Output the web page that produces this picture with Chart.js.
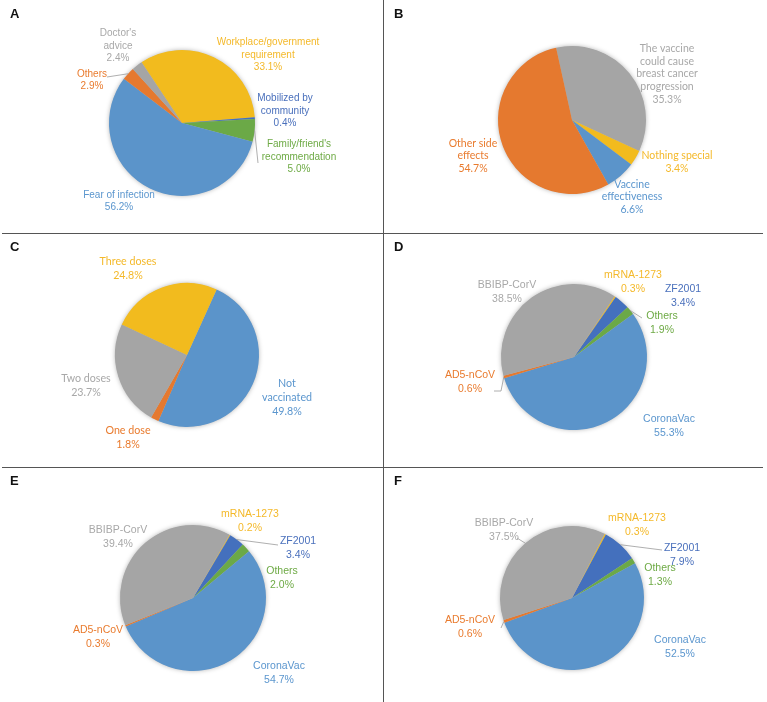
<!DOCTYPE html>
<html>
<head>
<meta charset="utf-8">
<script src="https://cdn.jsdelivr.net/npm/chart.js@4/dist/chart.umd.min.js"></script>
<style>
  body { margin: 0; background: #fff; }
  #page { position: relative; width: 767px; height: 702px; overflow: hidden; }
  .panel { position: absolute; }
  .tag { position: absolute; font: bold 13px "Liberation Sans", Arial, sans-serif; color: #111; }
  .vline { position: absolute; left: 382.5px; top: 0; width: 1.5px; height: 702px; background: #555; }
  .hline { position: absolute; left: 2px; width: 761px; height: 1.5px; background: #555; }
</style>
</head>
<body>
<div id="page">
  <div class="vline"></div>
  <div class="hline" style="top:232.5px"></div>
  <div class="hline" style="top:466.5px"></div>
</div>
<script>
"use strict";

// A - reasons for vaccination
const labelsA = [['Workplace/government', 'requirement'], ['Mobilized by', 'community'], ["Family/friend's", 'recommendation'], ['Fear of infection'], ['Others'], ["Doctor's", 'advice']];
const valuesA = [33.1, 0.4, 5.0, 56.2, 2.9, 2.4];

// B - reasons for hesitancy
const labelsB = [['The vaccine', 'could cause', 'breast cancer', 'progression'], ['Nothing special'], ['Vaccine', 'effectiveness'], ['Other side', 'effects']];
const valuesB = [35.3, 3.4, 6.6, 54.7];

// C - doses
const labelsC = [['Not', 'vaccinated'], ['One dose'], ['Two doses'], ['Three doses']];
const valuesC = [49.8, 1.8, 23.7, 24.8];

// D, E, F - vaccine types
const labelsVac = [['mRNA-1273'], ['ZF2001'], ['Others'], ['CoronaVac'], ['AD5-nCoV'], ['BBIBP-CorV']];
const valuesD = [0.3, 3.4, 1.9, 55.3, 0.6, 38.5];
const valuesE = [0.2, 3.4, 2.0, 54.7, 0.3, 39.4];
const valuesF = [0.3, 7.9, 1.3, 52.5, 0.6, 37.5];

const C = {
    blue: '#5B94CA', orange: '#E5792F', gray: '#A5A5A5',
    yellow: '#F2BB1E', navy: '#4470BD', green: '#6BA947'
};
const T = {
    blue: '#5B96CE', orange: '#E97B2E', gray: '#A8A8A8',
    yellow: '#F4B92A', navy: '#4A70BC', green: '#6EAA45'
};

const vacColors = [C.yellow, C.navy, C.green, C.blue, C.orange, C.gray];
const vacText = [T.yellow, T.navy, T.green, T.blue, T.orange, T.gray];

const panels = [
    {
        tag: 'A', x: 0, y: 0, w: 383, h: 233, cx: 182, cy: 123, r: 73, rotation: -33.7,
        labels: labelsA, values: valuesA,
        colors: [C.yellow, C.navy, C.green, C.blue, C.orange, C.gray],
        text: [T.yellow, T.navy, T.green, T.blue, T.orange, T.gray],
        font: '10px "Liberation Sans", Arial, sans-serif', lh: 12.5,
        pos: [[86, -68], [103, -12], [117, 34], [-63, 78], [-90, -43], [-64, -77]],
        leaders: { 2: [[76, 40]], 4: [[-75, -46]] }
    },
    {
        tag: 'B', x: 384, y: 0, w: 383, h: 233, cx: 188, cy: 120, r: 74, rotation: -12.4,
        labels: labelsB, values: valuesB,
        colors: [C.gray, C.yellow, C.blue, C.orange],
        text: [T.gray, T.yellow, T.blue, T.orange],
        font: '10.5px Lato, sans-serif', lh: 12.7,
        pos: [[95, -46], [105, 42], [60, 77], [-99, 36]],
        leaders: {}
    },
    {
        tag: 'C', x: 0, y: 233, w: 383, h: 234, cx: 187, cy: 122, r: 72, rotation: 24.3,
        labels: labelsC, values: valuesC,
        colors: [C.blue, C.orange, C.gray, C.yellow],
        text: [T.blue, T.orange, T.gray, T.yellow],
        font: '10.7px Lato, sans-serif', lh: 14,
        pos: [[100, 43], [-59, 83], [-101, 31], [-59, -86]],
        leaders: {}
    },
    {
        tag: 'D', x: 384, y: 233, w: 383, h: 234, cx: 190, cy: 124, r: 73, rotation: 33.8,
        labels: labelsVac, values: valuesD, colors: vacColors, text: vacText,
        font: '10.5px "Liberation Sans", Arial, sans-serif', lh: 13.5,
        pos: [[59, -75], [109, -61], [88, -34], [95, 69], [-104, 25], [-67, -65]],
        leaders: { 2: [[68, -39]], 4: [[-73, 34], [-80, 34]] }
    },
    {
        tag: 'E', x: 0, y: 467, w: 383, h: 235, cx: 193, cy: 131, r: 73, rotation: 30.0,
        labels: labelsVac, values: valuesE, colors: vacColors, text: vacText,
        font: '10.5px "Liberation Sans", Arial, sans-serif', lh: 14,
        pos: [[57, -77], [105, -50], [89, -20], [86, 75], [-95, 39], [-75, -61]],
        leaders: { 1: [[85, -53]] }
    },
    {
        tag: 'F', x: 384, y: 467, w: 383, h: 235, cx: 188, cy: 131, r: 72, rotation: 27.0,
        labels: labelsVac, values: valuesF, colors: vacColors, text: vacText,
        font: '10.5px "Liberation Sans", Arial, sans-serif', lh: 14,
        pos: [[65, -73], [110, -43], [88, -23], [108, 49], [-102, 29], [-68, -68]],
        leaders: { 1: [[90, -48]], 4: [[-71, 30]], 5: [[-55, -60]] }
    }
];

// soft shadow disc under the pie, like the office chart
const shadowPlugin = {
    id: 'shadow',
    beforeDatasetsDraw(chart) {
        const arc = chart.getDatasetMeta(0).data[0];
        if (!arc) return;
        const ctx = chart.ctx;
        ctx.save();
        ctx.shadowColor = 'rgba(0,0,0,0.35)';
        ctx.shadowBlur = 5;
        ctx.fillStyle = '#bbb';
        ctx.beginPath();
        ctx.arc(arc.x, arc.y, arc.outerRadius - 0.5, 0, Math.PI * 2);
        ctx.fill();
        ctx.restore();
    }
};

// slice labels and leader lines
const labelPlugin = {
    id: 'sliceLabels',
    afterDatasetsDraw(chart, args, opts) {
        const p = opts.panel;
        const ctx = chart.ctx;
        const arcs = chart.getDatasetMeta(0).data;
        ctx.save();
        arcs.forEach((arc, i) => {
            const mid = (arc.startAngle + arc.endAngle) / 2;
            const lead = p.leaders[i];
            if (lead) {
                ctx.strokeStyle = '#9a9a9a';
                ctx.lineWidth = 0.8;
                ctx.beginPath();
                ctx.moveTo(arc.x + arc.outerRadius * Math.cos(mid), arc.y + arc.outerRadius * Math.sin(mid));
                lead.forEach(pt => ctx.lineTo(arc.x + pt[0], arc.y + pt[1]));
                ctx.stroke();
            }
            const lines = p.labels[i].concat([p.values[i].toFixed(1) + '%']);
            const lx = arc.x + p.pos[i][0];
            const ly = arc.y + p.pos[i][1] - (lines.length - 1) * p.lh / 2;
            ctx.font = p.font;
            ctx.fillStyle = p.text[i];
            ctx.textAlign = 'center';
            ctx.textBaseline = 'middle';
            lines.forEach((t, k) => ctx.fillText(t, lx, ly + k * p.lh));
        });
        ctx.restore();
    }
};

const page = document.getElementById('page');

panels.forEach(p => {
    const div = document.createElement('div');
    div.className = 'panel';
    div.style.left = p.x + 'px';
    div.style.top = p.y + 'px';
    div.style.width = p.w + 'px';
    div.style.height = p.h + 'px';
    const canvas = document.createElement('canvas');
    canvas.width = p.w;
    canvas.height = p.h;
    div.appendChild(canvas);
    const tag = document.createElement('div');
    tag.className = 'tag';
    tag.style.left = '10px';
    tag.style.top = '6px';
    tag.textContent = p.tag;
    div.appendChild(tag);
    page.appendChild(div);

    new Chart(canvas, {
        type: 'pie',
        data: {
            labels: p.labels.map(l => l.join(' ')),
            datasets: [{
                data: p.values,
                backgroundColor: p.colors,
                borderWidth: 0
            }]
        },
        options: {
            responsive: false,
            animation: false,
            rotation: p.rotation,
            layout: {
                padding: {
                    left: p.cx - p.r,
                    right: p.w - p.cx - p.r,
                    top: p.cy - p.r,
                    bottom: p.h - p.cy - p.r
                }
            },
            plugins: {
                legend: { display: false },
                tooltip: { enabled: false },
                sliceLabels: { panel: p }
            }
        },
        plugins: [shadowPlugin, labelPlugin]
    });
});
</script>
</body>
</html>
